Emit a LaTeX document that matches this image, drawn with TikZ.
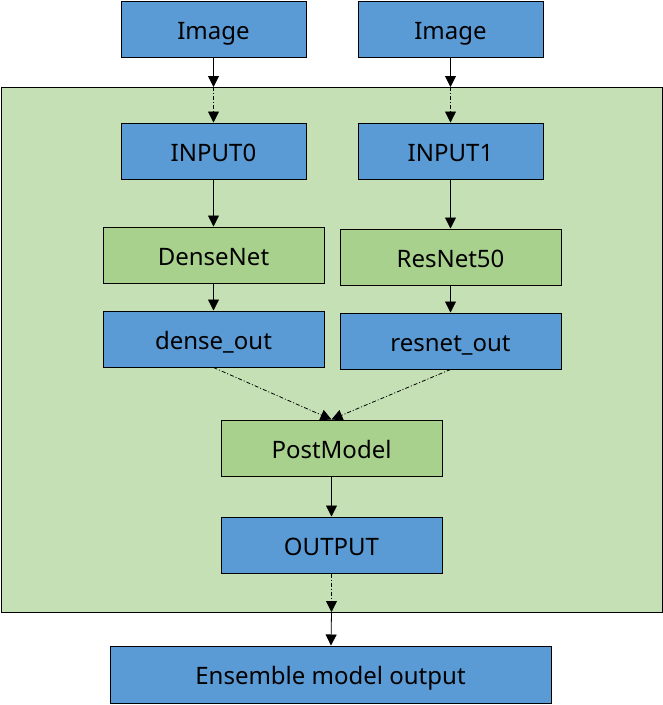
\documentclass[tikz,border=0pt]{standalone}
\usepackage{fontspec}
\setmainfont{Noto Sans}
\usetikzlibrary{arrows.meta}
\definecolor{bluebox}{HTML}{5B9BD5}
\definecolor{greenbox}{HTML}{A9D18E}
\definecolor{greenbg}{HTML}{C5E0B4}
\tikzset{
  box/.style={draw=black, line width=1pt, minimum height=56pt, font=\fontsize{24}{28}\selectfont, inner sep=0pt, text depth=0pt, text height=20pt},
  bluenode/.style={box, fill=bluebox},
  greennode/.style={box, fill=greenbox},
  arr/.style={-{Triangle[length=11pt,width=11pt]}, line width=0.8pt},
  dd/.style={arr, dash pattern=on 4pt off 2pt on 1pt off 2pt}
}
\begin{document}
\begin{tikzpicture}[x=1pt,y=-1pt]
\useasboundingbox (0,0) rectangle (663,705);
\node[draw=black, line width=1pt, fill=greenbg, minimum width=661pt, minimum height=525pt, inner sep=0pt] (frame) at (331.5,349.5) {};
\coordinate (ftopL) at (213.5,87);
\coordinate (ftopR) at (450.5,87);
\coordinate (fbot) at (331.5,612);
\node[bluenode, minimum width=185pt] (img0) at (213.5,29) {Image};
\node[bluenode, minimum width=185pt] (img1) at (450.5,29) {Image};
\node[bluenode, minimum width=185pt] (in0) at (213.5,151) {INPUT0};
\node[bluenode, minimum width=185pt] (in1) at (450.5,151) {INPUT1};
\node[greennode, minimum width=221pt] (dense) at (213.5,255) {DenseNet};
\node[greennode, minimum width=221pt] (resnet) at (450.5,257) {ResNet50};
\node[bluenode, minimum width=221pt] (dout) at (213.5,339) {dense\_out};
\node[bluenode, minimum width=221pt] (rout) at (450.5,341) {resnet\_out};
\node[greennode, minimum width=221pt] (post) at (331.5,448) {PostModel};
\node[bluenode, minimum width=221pt] (out) at (331.5,545) {OUTPUT};
\node[bluenode, minimum width=441pt, minimum height=57pt] (ens) at (330.5,674.5) {Ensemble model output};
\draw[arr] (img0) -- (ftopL);
\draw[arr] (img1) -- (ftopR);
\draw[dd] (ftopL) -- (in0);
\draw[dd] (ftopR) -- (in1);
\draw[arr] (in0) -- (dense);
\draw[arr] (in1) -- (resnet);
\draw[arr] (dense) -- (dout);
\draw[arr] (resnet) -- (rout);
\draw[dd] (dout.south) -- (post.north);
\draw[dd] (rout.south) -- (post.north);
\draw[arr] (post) -- (out);
\draw[dd] (out) -- (fbot);
\draw[arr] (fbot) -- (ens);
\end{tikzpicture}
\end{document}
